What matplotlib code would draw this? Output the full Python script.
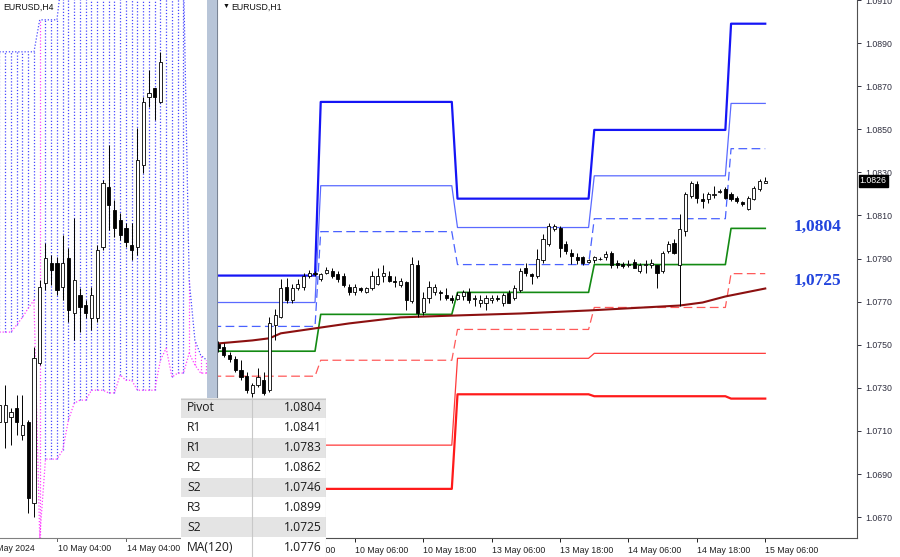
import numpy as np
import matplotlib
matplotlib.use('Agg')
import matplotlib.pyplot as plt
from matplotlib.patches import Rectangle

plt.rcParams['font.family'] = ['Liberation Sans', 'DejaVu Sans']

# ---------------- H1 panel data (bar index 0 = 10 May 06:00) ----------------
h1_x = np.arange(-24, 73)
h1_open = [1.07502, 1.07488, 1.07451, 1.07432, 1.07381, 1.07354, 1.07275, 1.07312, 1.07335, 1.07289,
           1.07590, 1.07631, 1.07766, 1.07706, 1.07761, 1.07770, 1.07821, 1.07831, 1.07807, 1.07831,
           1.07840, 1.07826, 1.07817, 1.07770, 1.07743, 1.07761, 1.07747, 1.07761, 1.07784, 1.07817,
           1.07817, 1.07798, 1.07775, 1.07789, 1.07701, 1.07868, 1.07650, 1.07715, 1.07743, 1.07743,
           1.07729, 1.07719, 1.07710, 1.07724, 1.07743, 1.07710, 1.07692, 1.07692, 1.07706, 1.07719,
           1.07692, 1.07738, 1.07715, 1.07752, 1.07854, 1.07826, 1.07821, 1.07891, 1.07969, 1.08039,
           1.08044, 1.07969, 1.07928, 1.07905, 1.07905, 1.07886, 1.07891, 1.07900, 1.07905, 1.07928,
           1.07881, 1.07877, 1.07872, 1.07886, 1.07844, 1.07872, 1.07868, 1.07868, 1.07844, 1.07937,
           1.07974, 1.07868, 1.08030, 1.08192, 1.08247, 1.08178, 1.08178, 1.08196, 1.08210, 1.08224,
           1.08201, 1.08182, 1.08164, 1.08131, 1.08178, 1.08224, 1.08252]
h1_high = [1.07516, 1.07506, 1.07465, 1.07446, 1.07428, 1.07372, 1.07321, 1.07391, 1.07372, 1.07627,
           1.07668, 1.07807, 1.07812, 1.07784, 1.07807, 1.07835, 1.07849, 1.07844, 1.07835, 1.07863,
           1.07854, 1.07840, 1.07835, 1.07780, 1.07780, 1.07770, 1.07770, 1.07840, 1.07854, 1.07868,
           1.07844, 1.07821, 1.07812, 1.07798, 1.07905, 1.07891, 1.07743, 1.07798, 1.07784, 1.07752,
           1.07761, 1.07729, 1.07743, 1.07752, 1.07761, 1.07729, 1.07729, 1.07729, 1.07733, 1.07729,
           1.07738, 1.07752, 1.07775, 1.07854, 1.07881, 1.07835, 1.07946, 1.08016, 1.08067, 1.08062,
           1.08053, 1.07983, 1.07946, 1.07928, 1.07914, 1.07900, 1.07914, 1.07909, 1.07937, 1.07937,
           1.07891, 1.07886, 1.07891, 1.07900, 1.07881, 1.07891, 1.07900, 1.07872, 1.07937, 1.07983,
           1.07993, 1.08108, 1.08210, 1.08261, 1.08261, 1.08206, 1.08210, 1.08238, 1.08224, 1.08233,
           1.08210, 1.08192, 1.08168, 1.08192, 1.08238, 1.08270, 1.08280]
h1_low = [1.07465, 1.07441, 1.07418, 1.07372, 1.07335, 1.07275, 1.07256, 1.07303, 1.07266, 1.07279,
          1.07520, 1.07622, 1.07696, 1.07696, 1.07752, 1.07756, 1.07812, 1.07817, 1.07798, 1.07826,
          1.07812, 1.07793, 1.07766, 1.07729, 1.07733, 1.07743, 1.07738, 1.07752, 1.07775, 1.07789,
          1.07789, 1.07766, 1.07766, 1.07659, 1.07692, 1.07627, 1.07636, 1.07696, 1.07729, 1.07706,
          1.07706, 1.07692, 1.07706, 1.07706, 1.07696, 1.07682, 1.07673, 1.07659, 1.07696, 1.07701,
          1.07682, 1.07692, 1.07706, 1.07743, 1.07821, 1.07784, 1.07812, 1.07881, 1.07960, 1.08030,
          1.07905, 1.07923, 1.07877, 1.07877, 1.07872, 1.07881, 1.07881, 1.07891, 1.07891, 1.07854,
          1.07858, 1.07858, 1.07863, 1.07854, 1.07835, 1.07831, 1.07858, 1.07761, 1.07835, 1.07928,
          1.07923, 1.07682, 1.08006, 1.08182, 1.08159, 1.08136, 1.08159, 1.08182, 1.08206, 1.08178,
          1.08168, 1.08159, 1.08145, 1.08127, 1.08173, 1.08215, 1.08252]
h1_close = [1.07483, 1.07451, 1.07432, 1.07381, 1.07349, 1.07289, 1.07312, 1.07349, 1.07275, 1.07599,
            1.07636, 1.07761, 1.07706, 1.07761, 1.07784, 1.07821, 1.07831, 1.07826, 1.07826, 1.07849,
            1.07821, 1.07803, 1.07775, 1.07743, 1.07766, 1.07752, 1.07761, 1.07817, 1.07821, 1.07835,
            1.07798, 1.07793, 1.07798, 1.07706, 1.07877, 1.07645, 1.07719, 1.07766, 1.07766, 1.07738,
            1.07719, 1.07706, 1.07729, 1.07743, 1.07706, 1.07715, 1.07706, 1.07719, 1.07719, 1.07710,
            1.07729, 1.07696, 1.07761, 1.07844, 1.07831, 1.07821, 1.07900, 1.07993, 1.08053, 1.08053,
            1.07951, 1.07937, 1.07914, 1.07891, 1.07881, 1.07891, 1.07905, 1.07898, 1.07923, 1.07868,
            1.07868, 1.07866, 1.07877, 1.07858, 1.07872, 1.07877, 1.07881, 1.07835, 1.07928, 1.07969,
            1.07928, 1.08039, 1.08201, 1.08252, 1.08182, 1.08168, 1.08201, 1.08201, 1.08215, 1.08182,
            1.08178, 1.08168, 1.08155, 1.08182, 1.08229, 1.08261, 1.08261]

# daily pivot levels: 9 May, 10 May, 13 May, 14 May, 15 May
day_first_bar = [-25, -6, 18, 42, 66]
lvl_r3 = [1.07821, 1.08627, 1.08178, 1.08497, 1.0899]
lvl_r2 = [1.07696, 1.08238, 1.08044, 1.08284, 1.0862]
lvl_r1 = [1.07585, 1.08025, 1.07872, 1.08085, 1.0841]
lvl_pp = [1.07470, 1.07641, 1.07743, 1.07872, 1.0804]
lvl_s1 = [1.07354, 1.07428, 1.07571, 1.07673, 1.0783]
lvl_s2 = [1.07244, 1.07034, 1.07437, 1.07460, 1.0746]
lvl_s3 = [1.07123, 1.06831, 1.07270, 1.07261, 1.0725]

ma_x = [-24, -18, -15, -13, -7, -1, 8, 18, 29, 41, 57, 61, 65, 72]
ma_y = [1.07506, 1.07520, 1.07530, 1.07553, 1.07576, 1.07599, 1.07627, 1.07636, 1.07645,
        1.07659, 1.07682, 1.07696, 1.07724, 1.07761]

h1_ticks = [-12, 0, 12, 24, 36, 48, 60, 72]
h1_tick_labels = ['9 May 18:00', '10 May 06:00', '10 May 18:00', '13 May 06:00',
                  '13 May 18:00', '14 May 06:00', '14 May 18:00', '15 May 06:00']
last_price = 1.0826

# ---------------- H4 panel data (bar index 0 = 10 May 04:00) ----------------
h4_x = np.arange(-10, 19)
h4_open = [1.07461, 1.07461, 1.07472, 1.07492, 1.07432, 1.07461, 1.07281, 1.07592, 1.07770, 1.07814,
           1.07814, 1.07761, 1.07825, 1.07703, 1.07743, 1.07721, 1.07692, 1.07692, 1.07850, 1.07983,
           1.07932, 1.07910, 1.07892, 1.07854, 1.07850, 1.08032, 1.08183, 1.08203, 1.08172]
h4_high = [1.07554, 1.07543, 1.07492, 1.07521, 1.07521, 1.07466, 1.07628, 1.07776, 1.07859, 1.07832,
           1.07827, 1.07876, 1.07847, 1.07914, 1.07759, 1.07732, 1.07761, 1.07854, 1.07998, 1.08076,
           1.07954, 1.07925, 1.07903, 1.07903, 1.08114, 1.08183, 1.08243, 1.08203, 1.08283]
h4_low = [1.07421, 1.07403, 1.07410, 1.07432, 1.07421, 1.07259, 1.07250, 1.07588, 1.07754, 1.07765,
          1.07743, 1.07732, 1.07683, 1.07643, 1.07661, 1.07692, 1.07665, 1.07683, 1.07843, 1.07887,
          1.07872, 1.07865, 1.07850, 1.07821, 1.07832, 1.08014, 1.08161, 1.08132, 1.08169]
h4_close = [1.07499, 1.07499, 1.07483, 1.07461, 1.07455, 1.07292, 1.07603, 1.07761, 1.07825, 1.07799,
            1.07754, 1.07814, 1.07710, 1.07776, 1.07716, 1.07703, 1.07743, 1.07843, 1.07992, 1.07943,
            1.07892, 1.07876, 1.07861, 1.07843, 1.08043, 1.08172, 1.08192, 1.08183, 1.08260]

cloud_x = np.arange(-10, 27)
cloud_a = [1.08283] * 7 + [1.08354] * 4 + [1.08465] * 22 + [1.07776, 1.07643, 1.07610, 1.07599]
cloud_b = [1.07661, 1.07661, 1.07661, 1.07677, 1.07694, 1.07714, 1.07732, 1.07204, 1.07379, 1.07379,
           1.07379, 1.07399, 1.07466, 1.07503, 1.07510, 1.07510, 1.07532, 1.07532, 1.07532, 1.07526,
           1.07526, 1.07566, 1.07554, 1.07554, 1.07532, 1.07532, 1.07532, 1.07532, 1.07599, 1.07625,
           1.07561, 1.07570, 1.07570, 1.07614, 1.07588, 1.07570, 1.07570]

h4_ticks = [-12, 0, 12]
h4_tick_labels = ['8 May 2024', '10 May 04:00', '14 May 04:00']

table_labels = ['Pivot', 'R1', 'R1', 'R2', 'S2', 'R3', 'S2', 'MA(120)']
table_values = [1.0804, 1.0841, 1.0783, 1.0862, 1.0746, 1.0899, 1.0725, 1.0776]

W, H = 900, 557
fig = plt.figure(figsize=(9, 5.57), dpi=100)
fig.patch.set_facecolor('white')


def fx(px):
    return px / W


def draw_candles(ax, x, o, h, l, c, width):
    o, h, l, c = map(np.asarray, (o, h, l, c))
    ax.vlines(x, l, h, color='black', lw=0.7, zorder=5)
    up = c >= o
    bottom = np.minimum(o, c)
    height = np.maximum(np.abs(c - o), 0.00001)
    ax.bar(x, height, width, bottom, color=np.where(up, 'white', 'black'),
           edgecolor='black', linewidth=0.6, zorder=6)


# ---------------- left H4 panel ----------------
axl = fig.add_axes([0, 19 / H, fx(207), 538 / H])
axl.set_xlim(-9.91, 26.1)
axl.set_ylim(1.07204, 1.08398)
for j, a, b in zip(cloud_x, cloud_a, cloud_b):
    col = '#ff40ff' if (j == -3 or j >= 23) else '#4848ff'
    axl.vlines(j, min(a, b), max(a, b), colors=col, lw=0.9, linestyles=(0, (1, 1.5)), zorder=1)
axl.plot(cloud_x, cloud_a, color='#4848ff', lw=0.9, ls=(0, (1, 1.5)), zorder=2)
axl.plot(cloud_x, cloud_b, color='#ff40ff', lw=0.9, ls=(0, (1, 1.5)), zorder=2)
draw_candles(axl, h4_x, h4_open, h4_high, h4_low, h4_close, 0.55)
axl.set_xticks([])
axl.set_yticks([])
for s in ['top', 'left', 'right']:
    axl.spines[s].set_visible(False)
axl.spines['bottom'].set_color('#808080')
for t, lab in zip(h4_ticks, h4_tick_labels):
    axl.text(t + 0.2, -0.012, lab, transform=axl.get_xaxis_transform(), fontsize=6.3,
             color='#202020', ha='left', va='top', clip_on=False)
    axl.plot([t, t], [0, -0.006], transform=axl.get_xaxis_transform(), color='#606060',
             lw=0.7, clip_on=False)
axl.text(0.015, 0.995, 'EURUSD,H4', transform=axl.transAxes, fontsize=6.3, ha='left', va='top',
         color='#101010', bbox=dict(facecolor='white', edgecolor='none', pad=0.5), zorder=10)

# splitter
fig.patches.append(Rectangle((fx(207), 0), fx(10), 1, transform=fig.transFigure,
                             facecolor='#b8c5d8', edgecolor='none', zorder=3))
fig.lines.append(plt.Line2D([fx(216.5)] * 2, [0, 1], transform=fig.transFigure,
                            color='#7a8494', lw=0.8, zorder=3))

# ---------------- right H1 panel ----------------
ax = fig.add_axes([fx(217), 19 / H, fx(857 - 217), 538 / H])
ax.set_xlim(-24.2, 88.1)
ax.set_ylim(1.06603, 1.09094)

bar_idx = np.arange(-25, 73)
day_of_bar = np.searchsorted(day_first_bar, bar_idx, side='right') - 1
dash = (0, (7, 3.5))
ax.plot(bar_idx, np.array(lvl_r3)[day_of_bar], color='#1515f5', lw=1.6, zorder=3)
ax.plot(bar_idx, np.array(lvl_r2)[day_of_bar], color='#5a6aff', lw=0.9, zorder=3)
ax.plot(bar_idx, np.array(lvl_r1)[day_of_bar], color='#4a62ff', lw=0.9, ls=dash, zorder=3)
ax.plot(bar_idx, np.array(lvl_pp)[day_of_bar], color='#138a13', lw=1.2, zorder=3)
ax.plot(bar_idx, np.array(lvl_s1)[day_of_bar], color='#ff5a5a', lw=0.9, ls=dash, zorder=3)
ax.plot(bar_idx, np.array(lvl_s2)[day_of_bar], color='#ff3a3a', lw=0.9, zorder=3)
ax.plot(bar_idx, np.array(lvl_s3)[day_of_bar], color='#ff1a1a', lw=1.6, zorder=3)
ax.plot(ma_x, ma_y, color='#8c1010', lw=1.5, zorder=4)

draw_candles(ax, h1_x, h1_open, h1_high, h1_low, h1_close, 0.55)

ax.text(81.2, 1.08048, '1,0804', fontsize=12.5, fontweight='bold', family='Liberation Serif',
        color='#2244dd', ha='center', va='center')
ax.text(81.2, 1.07798, '1,0725', fontsize=12.5, fontweight='bold', family='Liberation Serif',
        color='#2244dd', ha='center', va='center')

ax.yaxis.tick_right()
ax.set_yticks(np.arange(1.0670, 1.0911, 0.002))
ax.set_yticklabels(['%.4f' % v for v in np.arange(1.0670, 1.0911, 0.002)])
ax.tick_params(axis='y', labelsize=6.3, length=3, width=0.7, pad=3, colors='#303040')
ax.set_xticks(h1_ticks)
ax.set_xticklabels(h1_tick_labels, ha='left')
ax.tick_params(axis='x', labelsize=6.3, length=3, width=0.7, pad=3, colors='#202020')
for s in ['top', 'left']:
    ax.spines[s].set_visible(False)
ax.spines['right'].set_color('#505050')
ax.spines['bottom'].set_color('#505050')
ax.annotate('%.4f' % last_price, xy=(1.0, last_price), xycoords=('axes fraction', 'data'),
            xytext=(2, 0), textcoords='offset points', fontsize=6.3, color='white',
            va='center', ha='left',
            bbox=dict(facecolor='black', edgecolor='black', pad=0.8), zorder=10,
            annotation_clip=False)
ax.text(0.008, 0.995, '\u25bc', transform=ax.transAxes, fontsize=5, ha='left', va='top',
        color='#101010')
ax.text(0.022, 0.995, 'EURUSD,H1', transform=ax.transAxes, fontsize=6.3, ha='left', va='top',
        color='#101010')

# ---------------- table overlay ----------------
tab = fig.add_axes([fx(181), 0, fx(326 - 181), (557 - 398) / H])
tab.set_zorder(10)
tab.set_xlim(181, 326)
tab.set_ylim(557, 398)
tab.axis('off')
row_h = (557 - 398) / len(table_labels)
for k, (lab, val) in enumerate(zip(table_labels, table_values)):
    y0 = 398 + k * row_h
    tab.add_patch(Rectangle((181, y0), 145, row_h,
                            facecolor='#e4e4e4' if k % 2 == 0 else 'white', edgecolor='none'))
    tab.text(187, y0 + row_h / 2, lab, fontsize=8.7, family='Open Sans', color='#1a1a1a',
             va='center', ha='left')
    tab.text(322, y0 + row_h / 2, '%.4f' % val, fontsize=8.7, family='Open Sans',
             color='#1a1a1a', va='center', ha='right')
tab.plot([252, 252], [398, 557], color='#c8c8c8', lw=0.8)
tab.plot([325.5, 325.5], [398, 557], color='#b0b0b0', lw=0.8)
tab.plot([181, 326], [398.5, 398.5], color='#c8c8c8', lw=0.8)

fig.savefig('out.png', dpi=100)
